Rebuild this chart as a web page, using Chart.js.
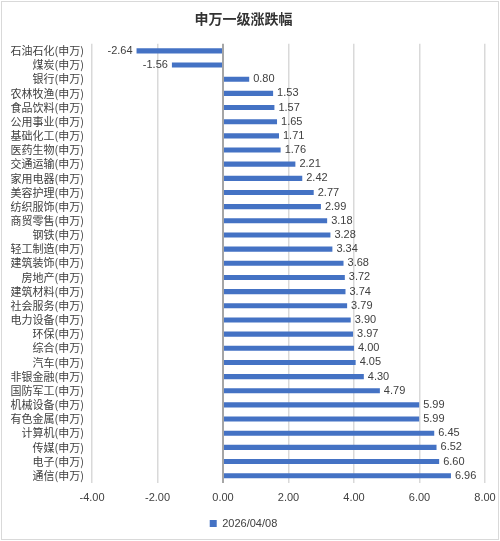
<!DOCTYPE html>
<html>
<head>
<meta charset="utf-8">
<script src="https://cdn.jsdelivr.net/npm/chart.js@4"></script>
<style>
  body { margin: 0; background: #fff; }
  .wrap { width: 496px; height: 537px; border: 1px solid #d9d9d9; margin: 1px; position: relative; }
</style>
</head>
<body>
<div class="wrap"><canvas id="myChart"></canvas></div>
<script>
const industries = ["石油石化", "煤炭", "银行", "农林牧渔", "食品饮料", "公用事业", "基础化工", "医药生物",
  "交通运输", "家用电器", "美容护理", "纺织服饰", "商贸零售", "钢铁", "轻工制造", "建筑装饰", "房地产",
  "建筑材料", "社会服务", "电力设备", "环保", "综合", "汽车", "非银金融", "国防军工", "机械设备",
  "有色金属", "计算机", "传媒", "电子", "通信"];
const changes = [-2.64, -1.56, 0.80, 1.53, 1.57, 1.65, 1.71, 1.76, 2.21, 2.42, 2.77, 2.99, 3.18, 3.28,
  3.34, 3.68, 3.72, 3.74, 3.79, 3.90, 3.97, 4.00, 4.05, 4.30, 4.79, 5.99, 5.99, 6.45, 6.52, 6.60, 6.96];
const seriesName = "2026/04/08";
const xMin = -4;
const xMax = 8;

const labels = industries.map((n) => n + "(申万)");

// value labels next to each bar
const valueLabels = {
  id: "valueLabels",
  afterDatasetsDraw(chart) {
    const ctx = chart.ctx;
    const meta = chart.getDatasetMeta(0);
    ctx.save();
    ctx.font = "11px 'Liberation Sans', Arial, sans-serif";
    ctx.fillStyle = "#404040";
    ctx.textBaseline = "middle";
    meta.data.forEach((bar, i) => {
      const v = changes[i];
      if (v < 0) {
        ctx.textAlign = "right";
        ctx.fillText(v.toFixed(2), bar.x - 4, bar.y);
      } else {
        ctx.textAlign = "left";
        ctx.fillText(v.toFixed(2), bar.x + 4, bar.y);
      }
    });
    ctx.restore();
  },
};

const data = {
  labels: labels,
  datasets: [
    {
      label: seriesName,
      backgroundColor: "#4472C4",
      borderWidth: 0,
      barPercentage: 0.8,
      categoryPercentage: 0.45,
      data: changes,
    },
  ],
};

const config = {
  type: "bar",
  data: data,
  plugins: [valueLabels],
  options: {
    indexAxis: "y",
    responsive: false,
    animation: false,
    layout: { padding: { left: 0, right: 13, top: 0, bottom: 0 } },
    plugins: {
      title: {
        display: true,
        text: "申万一级涨跌幅",
        color: "#333",
        font: { size: 14, weight: "bold", family: "'Noto Sans CJK SC', sans-serif" },
        padding: { top: 8, bottom: 17 },
      },
      legend: {
        position: "bottom",
        labels: {
          boxWidth: 7,
          boxHeight: 7,
          padding: 4,
          color: "#404040",
          font: { size: 11, family: "'Liberation Sans', Arial, sans-serif" },
        },
      },
      tooltip: { enabled: false },
    },
    scales: {
      x: {
        min: xMin,
        max: xMax,
        ticks: {
          stepSize: 2,
          color: "#404040",
          font: { size: 11, family: "'Liberation Sans', Arial, sans-serif" },
          callback: (v) => v.toFixed(2),
          padding: 9,
        },
        grid: {
          color: (c) => (c.tick && c.tick.value === 0 ? "#a6a6a6" : "#d9d9d9"),
          lineWidth: (c) => (c.tick && c.tick.value === 0 ? 2 : 1.5),
          drawTicks: false,
        },
        border: { display: false },
        afterFit: (scale) => {
          scale.paddingLeft = 0;
          scale.paddingRight = 0;
        },
      },
      y: {
        ticks: {
          autoSkip: false,
          color: "#404040",
          font: { size: 11, family: "'Noto Sans CJK SC', sans-serif" },
          padding: 0,
        },
        grid: { display: false },
        border: { display: false },
        afterFit: (scale) => {
          scale.width = 90;
        },
      },
    },
  },
};

const canvas = document.getElementById("myChart");
canvas.width = 496;
canvas.height = 537;
new Chart(canvas, config);
</script>
</body>
</html>
